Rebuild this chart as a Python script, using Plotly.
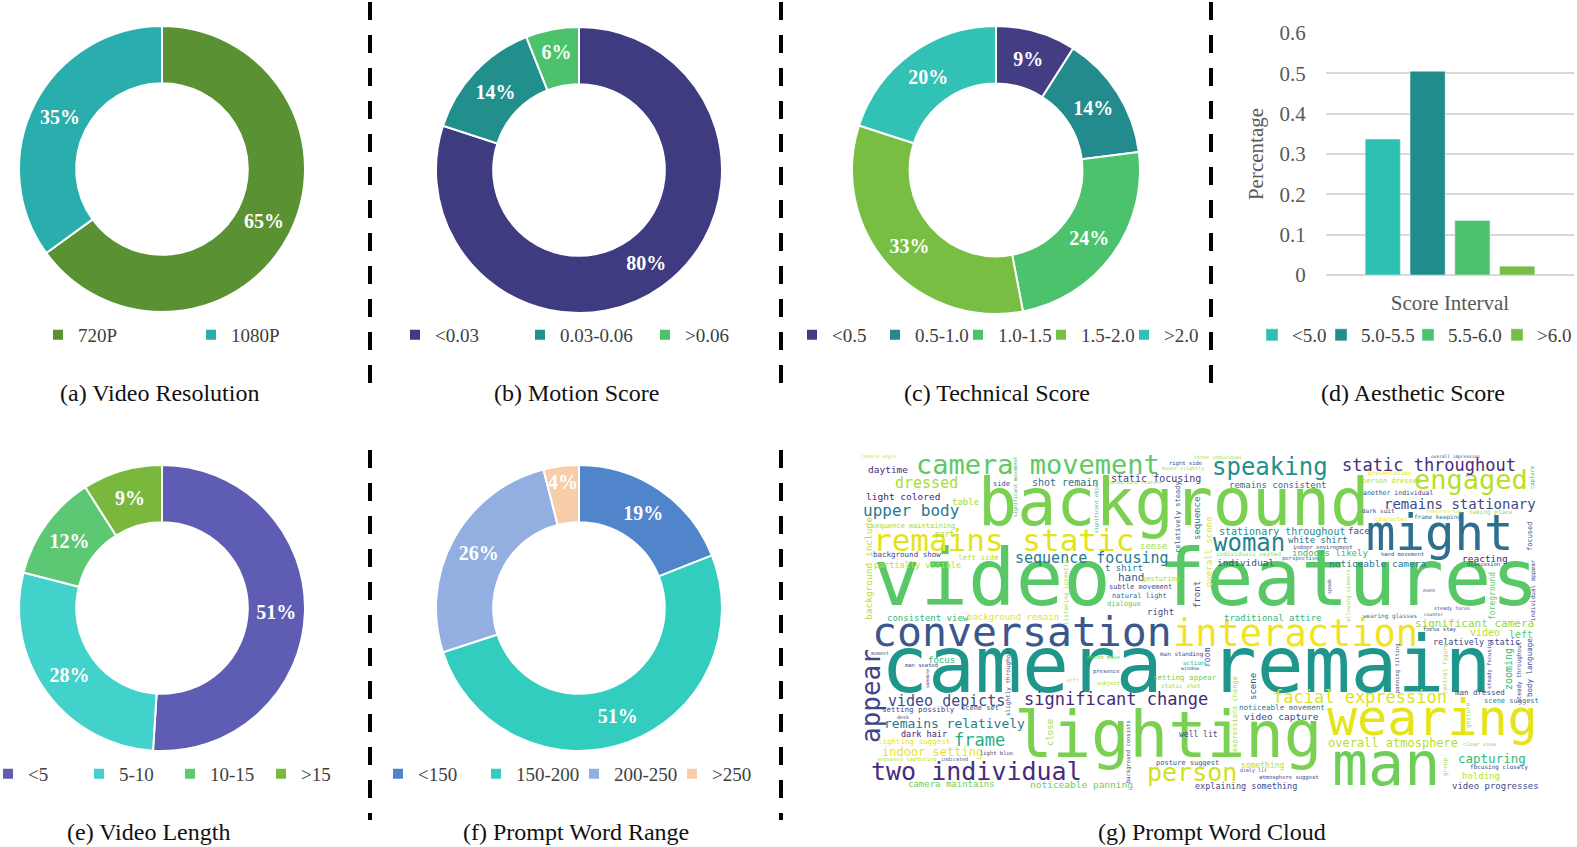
import plotly.graph_objects as go

# ##### Canvas #####
W, H = 1577, 847

# ##### Data #####
res_labels = ["720P", "1080P"]
res_values = [65, 35]

motion_labels = ["<0.03", "0.03-0.06", ">0.06"]
motion_values = [80, 14, 6]

tech_labels = ["<0.5", "0.5-1.0", "1.0-1.5", "1.5-2.0", ">2.0"]
tech_values = [9, 14, 24, 33, 20]

aes_category = "Score Interval"
aes_labels = ["<5.0", "5.0-5.5", "5.5-6.0", ">6.0"]
aes_values = [0.337, 0.505, 0.135, 0.022]

len_labels = ["<5", "5-10", "10-15", ">15"]
len_values = [51, 28, 12, 9]

prompt_labels = ["<150", "150-200", "200-250", ">250"]
prompt_values = [19, 51, 26, 4]

captions = ["(a) Video Resolution", "(b) Motion Score", "(c) Technical Score",
            "(d) Aesthetic Score", "(e) Video Length", "(f) Prompt Word Range",
            "(g) Prompt Word Cloud"]

# word cloud: words and their relative weight (font size)
wc_words = [
    "background", "video features", "camera remain", "lighting", "man", "wearing", "might",
    "conversation", "interaction", "remains static", "camera movement", "engaged", "speaking",
    "woman", "two individual", "person", "appear", "significant change", "static throughout",
    "facial expression", "frame", "upper body", "video depicts", "sequence focusing", "dressed",
    "remains stationary", "remains relatively", "capturing", "overall atmosphere", "indoor setting",
    "significant camera", "hand", "stationary throughout", "video", "left", "zooming", "shot remain",
    "static focusing", "daytime", "light colored", "video capture", "noticeable camera", "individual",
    "reacting", "noticeable panning", "background include", "table", "remains consistent",
    "white shirt", "indoors likely", "face", "sense", "t shirt", "right", "consistent view",
    "background remain", "traditional attire", "camera maintains", "video progresses", "holding",
    "focus", "close", "scene", "front", "overall scene", "sequence", "explaining something",
    "partially visible", "relatively static", "dark hair", "something", "well lit", "part",
    "foreground", "room", "background show", "left side", "setting possibly", "lighting suggest",
    "setting appear", "noticeable movement", "man dressed", "body language", "sequence maintaining",
    "side", "gesturing", "subtle movement", "natural light", "dialogue", "scene set",
    "posture suggest", "scene suggest", "person dressed", "relatively steady", "expressions change",
    "focused", "another individual", "listening intently", "slightly throughout", "man standing",
    "action", "static shot", "presentation", "dark suit", "character", "frame keeping",
    "taking place", "individuals seated", "wearing glasses", "focusing closely", "gesture", "group",
    "central figure", "steady throughout", "individual appear", "right side", "indoor environment",
    "perspective", "hand movement", "discussion", "man seated", "presence", "subject", "soft",
    "mouth move", "light blue", "sequence capturing", "atmosphere suggest", "focus stay",
    "clear view", "capture", "allowing viewers", "panning tilting", "steady focusing",
    "background consists", "camera angle", "three individual", "moves slightly",
    "background feature", "significant movement", "significant object", "features two", "desk",
    "indicated", "moment", "window", "dimly lit", "even", "steady focus", "overall impression",
    "someone", "speak", "counter",
]
wc_size = [
    65, 79, 78, 64, 60, 50, 49,
    41.5, 37, 31, 27, 27, 24,
    24, 25, 25, 26, 17, 17,
    17, 17, 16, 15, 15, 15,
    14, 13, 12.5, 12, 12,
    11, 11, 10, 10, 10, 10, 10,
    10, 9.5, 9.5, 9.5, 9.5, 9.5,
    9.5, 9.5, 9.5, 9, 9,
    9, 9, 9, 9, 9, 9, 9,
    9, 9, 9, 9, 9,
    9, 9, 9, 9, 9, 9, 8.5,
    8.5, 8.5, 8.5, 8, 8, 8,
    8, 8, 7.5, 7.5, 7.5, 7.5,
    7.5, 7.5, 7.5, 7.5, 7,
    7, 7, 7, 7, 7, 7,
    7, 7, 7, 7, 7,
    7, 6.5, 6, 6, 6,
    6, 6, 6, 6, 6, 6,
    6, 6, 6, 6, 6, 6,
    6, 6, 6, 5.5, 5.5,
    5.5, 5.5, 5.5, 5.5, 5.5, 5.5, 5.5,
    5.5, 5.5, 5.5, 5.5, 5.5,
    5.5, 5.5, 5.5, 5.5, 5.5,
    5.5, 5, 5, 5,
    5, 5, 5, 5, 5,
    5, 5, 5, 5, 5, 5, 4.5,
    4.5, 5, 4.5,
]

# word cloud layout (pixel position of each word centre, orientation, colour)
wc_x = [
    1173, 1206, 1186, 1168, 1386, 1432, 1440,
    1022, 1295, 1004, 1038, 1471, 1270,
    1249, 977, 1192, 871, 1116, 1429,
    1360, 980, 912, 947, 1092, 927,
    1460, 955, 1492, 1393, 933,
    1474, 1131, 1282, 1485, 1521, 1508, 1065,
    1156, 888, 903, 1281, 1377, 1245,
    1485, 1081, 868, 966, 1278,
    1318, 1330, 1359, 1153, 1124, 1160, 928,
    1013, 1273, 952, 1495, 1481,
    942, 1050, 1253, 1197, 1209, 1197, 1246,
    918, 1476, 924, 1263, 1198, 945,
    1492, 1207, 907, 979, 919, 914,
    1185, 1282, 1480, 1529, 913,
    1002, 1161, 1140, 1139, 1124, 980,
    1187, 1511, 1391, 1178, 1235,
    1530, 1398, 1066, 1008, 1182,
    1194, 1181, 1390, 1378, 1391, 1437,
    1491, 1248, 1390, 1499, 1468, 1445,
    1445, 1519, 1533, 1185, 1323,
    1300, 1402, 1483, 922, 1106, 1108, 1072,
    1103, 997, 907, 1289, 1440,
    1480, 1533, 1348, 1397, 1489,
    1128, 879, 1218, 1183,
    1135, 1016, 1097, 1444, 903,
    955, 880, 1190, 1253, 1429, 1452, 1455,
    927, 1329, 1433,
]
wc_y = [
    503, 578, 665, 735, 764, 718, 533,
    631, 633, 540, 465, 480, 467,
    543, 771, 772, 696, 699, 465,
    697, 740, 511, 701, 558, 483,
    504, 723, 758, 743, 752,
    623, 577, 531, 632, 634, 669, 483,
    479, 470, 497, 716, 563, 562,
    558, 784, 568, 502, 485,
    540, 553, 531, 546, 568, 612, 618,
    617, 618, 784, 786, 776,
    660, 733, 687, 595, 552, 519, 786,
    565, 642, 734, 765, 734, 534,
    596, 658, 554, 557, 709, 741,
    677, 707, 692, 668, 526,
    484, 579, 587, 596, 604, 708,
    763, 701, 481, 517, 714,
    536, 493, 593, 681, 654,
    662, 685, 473, 511, 518, 517,
    512, 553, 616, 767, 715, 767,
    669, 672, 590, 464, 547,
    558, 554, 564, 665, 671, 683, 680,
    657, 753, 759, 777, 629,
    744, 478, 596, 668, 664,
    752, 457, 457, 469,
    483, 487, 506, 511, 717,
    759, 653, 668, 770, 590, 608, 457,
    678, 587, 614,
]
wc_vertical = [
    0, 0, 0, 0, 0, 0, 0,
    0, 0, 0, 0, 0, 0,
    0, 0, 0, 1, 0, 0,
    0, 0, 0, 0, 0, 0,
    0, 0, 0, 0, 0,
    0, 0, 0, 0, 0, 1, 0,
    0, 0, 0, 0, 0, 0,
    0, 0, 1, 0, 0,
    0, 0, 0, 0, 0, 0, 0,
    0, 0, 0, 0, 0,
    0, 1, 1, 1, 1, 1, 0,
    0, 0, 0, 0, 0, 0,
    1, 1, 0, 0, 0, 0,
    0, 0, 0, 1, 0,
    0, 0, 0, 0, 0, 0,
    0, 0, 0, 1, 1,
    1, 0, 1, 1, 0,
    0, 0, 0, 0, 0, 0,
    0, 0, 0, 0, 1, 1,
    1, 1, 1, 0, 0,
    0, 0, 0, 0, 0, 0, 0,
    0, 0, 0, 0, 0,
    0, 1, 1, 1, 1,
    1, 0, 0, 0,
    0, 1, 1, 0, 0,
    0, 0, 0, 0, 0, 0, 0,
    1, 1, 0,
]
wc_color = [
    "#7ad151", "#58c765", "#1f968b", "#7ad151", "#6ece58", "#e4e419", "#2e6e8e",
    "#3b578b", "#f0e51c", "#e2e418", "#5ec962", "#b8de29", "#21918c",
    "#26828e", "#472d7b", "#d0e11c", "#414487", "#482878", "#472d7b",
    "#dde318", "#27ad81", "#2a788e", "#3e4989", "#2a788e", "#a8db34",
    "#3e4a89", "#2a788e", "#35b779", "#b5de2b", "#ece51b",
    "#8fd744", "#3b528b", "#23898e", "#b5de2b", "#5ec962", "#35b779", "#2d708e",
    "#453781", "#472c7a", "#482475", "#3e4989", "#2a788e", "#3e4989",
    "#482878", "#6ece58", "#b5de2b", "#a5db36", "#2d708e",
    "#2a788e", "#35b779", "#3e4989", "#a5db36", "#2d708e", "#3e4989", "#35b779",
    "#e8e41a", "#35b779", "#6ece58", "#3e4989", "#b5de2b",
    "#35b779", "#a0da39", "#3b528b", "#3b528b", "#e2e418", "#2a788e", "#3e4989",
    "#bddf26", "#3e4989", "#482475", "#b5de2b", "#3e4989", "#a5db36",
    "#5ec962", "#3b528b", "#3e4989", "#b5de2b", "#3e4989", "#e8e41a",
    "#7ad151", "#2a788e", "#3e4989", "#3e4989", "#a0da39",
    "#3b528b", "#a0da39", "#3e4a89", "#2d708e", "#5ec962", "#3b528b",
    "#3b528b", "#2a788e", "#b5de2b", "#3e4a89", "#a0da39",
    "#3e4989", "#3e4989", "#a0da39", "#3e4989", "#3e4989",
    "#35b779", "#a0da39", "#dfe318", "#3e4989", "#e8e41a", "#2a788e",
    "#a0da39", "#a0da39", "#2a788e", "#3e4989", "#a0da39", "#a0da39",
    "#a0da39", "#3e4989", "#3e4989", "#3e4989", "#3e4989",
    "#2a788e", "#3e4989", "#3e4989", "#3e4989", "#3e4989", "#a0da39", "#e8e41a",
    "#5ec962", "#3e4989", "#bddf26", "#3e4989", "#3e4989",
    "#a0da39", "#35b779", "#a0da39", "#3e4989", "#3e4989",
    "#3e4989", "#dfe318", "#a0da39", "#a0da39",
    "#a0da39", "#35b779", "#35b779", "#e8e41a", "#3e4989",
    "#3e4989", "#3e4989", "#3e4989", "#3e4989", "#3e4989", "#3e4989", "#3e4989",
    "#3e4989", "#3e4989", "#3e4989",
]

# ##### Styles #####
res_colors = ["#5a9133", "#2aadad"]
motion_colors = ["#3e3b80", "#21908d", "#4cc26c"]
tech_colors = ["#433d84", "#238b8d", "#4cc26c", "#78be43", "#31c2b5"]
aes_colors = ["#2fc0b4", "#218c8c", "#4cc26c", "#78be43"]
len_colors = ["#5e5cb3", "#43d1cc", "#5cc873", "#7ab83d"]
prompt_colors = ["#5085cc", "#33cdbf", "#93afe2", "#f7cdaa"]

SERIF = "Liberation Serif"
LEGEND_FONT = dict(family=SERIF, size=19, color="#404040")

fig = go.Figure()


def add_donut(labels, values, colors, cx, cy, r, legend):
    # one ring chart, placed by its centre and radius in pixels
    fig.add_trace(go.Pie(
        labels=labels,
        values=values,
        text=[f"{v}%" for v in values],
        textinfo="text",
        textposition="inside",
        insidetextorientation="horizontal",
        hole=0.6,
        sort=False,
        direction="clockwise",
        rotation=0,
        marker=dict(colors=colors, line=dict(color="white", width=2)),
        textfont=dict(family=SERIF, size=20, color="white", weight="bold"),
        domain=dict(x=[(cx - r) / W, (cx + r) / W], y=[1 - (cy + r) / H, 1 - (cy - r) / H]),
        legend=legend,
        hoverinfo="label+percent",
    ))


add_donut(res_labels, res_values, res_colors, 162, 169, 143, "legend")
add_donut(motion_labels, motion_values, motion_colors, 579, 170, 143, "legend2")
add_donut(tech_labels, tech_values, tech_colors, 996, 170, 144, "legend3")
add_donut(len_labels, len_values, len_colors, 162, 608, 143, "legend5")
add_donut(prompt_labels, prompt_values, prompt_colors, 579, 608, 143, "legend6")

# --- Bar chart (d) ---
aes_legend_widths = [24, 42, 44, 40]
for lab, val, col, lw in zip(aes_labels, aes_values, aes_colors, aes_legend_widths):
    fig.add_trace(go.Bar(
        x=[aes_category], y=[val], name=lab, marker_color=col,
        legend="legend4", legendwidth=lw, xaxis="x", yaxis="y",
    ))

# --- Word cloud (g) ---
fig.add_trace(go.Scatter(x=[None], y=[None], xaxis="x2", yaxis="y2", showlegend=False,
                         hoverinfo="skip"))

annotations = []
for w, s, x, y, v, c in zip(wc_words, wc_size, wc_x, wc_y, wc_vertical, wc_color):
    annotations.append(dict(
        x=x, y=y, xref="x2", yref="y2", text=w, showarrow=False,
        xanchor="center", yanchor="middle",
        textangle=-90 if v else 0,
        font=dict(family="DejaVu Sans Mono", size=s, color=c),
    ))

# --- Captions ---
cap_pos = [(159, 393), (576, 393), (997, 393), (1413, 393), (148, 832), (576, 832), (1212, 832)]
for text, (x, y) in zip(captions, cap_pos):
    annotations.append(dict(
        x=x / W, y=1 - y / H, xref="paper", yref="paper", text=text, showarrow=False,
        xanchor="center", yanchor="middle",
        font=dict(family=SERIF, size=24, color="#111111"),
    ))

# --- Dashed separators ---
shapes = []
for x, y0, y1 in [(370, 2, 387), (781, 2, 387), (1211, 2, 387), (370, 450, 820), (781, 450, 820)]:
    shapes.append(dict(
        type="line", xref="paper", yref="paper",
        x0=x / W, x1=x / W, y0=1 - y0 / H, y1=1 - y1 / H,
        line=dict(color="black", width=4, dash="18px,15px"),
    ))


def legend_at(x, y, entrywidth=None):
    d = dict(orientation="h", x=x / W, y=1 - y / H, xanchor="left", yanchor="middle",
             font=LEGEND_FONT, bgcolor="rgba(0,0,0,0)", itemwidth=30, traceorder="normal")
    if entrywidth:
        d["entrywidth"] = entrywidth
    return d


fig.update_layout(
    width=W, height=H,
    margin=dict(l=0, r=0, t=0, b=0, autoexpand=False),
    paper_bgcolor="white", plot_bgcolor="white",
    barmode="group", bargap=0.277, bargroupgap=0.217,
    legend=legend_at(38, 335, 108),
    legend2=legend_at(395, 335, 80),
    legend3=legend_at(792, 335, 38),
    legend4=legend_at(1252, 335),
    legend5=legend_at(-12, 774, 46),
    legend6=legend_at(378, 774, 53),
    xaxis=dict(
        domain=[1326 / W, 1574 / W], anchor="y", showgrid=False, showline=False,
        ticks="outside", ticklen=9, tickcolor="rgba(0,0,0,0)",
        tickfont=dict(family=SERIF, size=21, color="#595959"),
    ),
    yaxis=dict(
        domain=[1 - 275 / H, 1 - 33 / H], anchor="x", range=[0, 0.6],
        tickvals=[0, 0.1, 0.2, 0.3, 0.4, 0.5, 0.6],
        ticktext=["0", "0.1", "0.2", "0.3", "0.4", "0.5", "0.6"],
        showgrid=True, gridcolor="#d9d9d9", gridwidth=1.5,
        zeroline=True, zerolinecolor="#d9d9d9", zerolinewidth=1.5,
        ticks="outside", ticklen=15, tickcolor="rgba(0,0,0,0)",
        tickfont=dict(family=SERIF, size=21, color="#595959"),
        title=dict(text="Percentage", font=dict(family=SERIF, size=21, color="#595959"),
                   standoff=10),
    ),
    xaxis2=dict(domain=[850 / W, 1545 / W], range=[850, 1545], visible=False, anchor="y2"),
    yaxis2=dict(domain=[1 - 800 / H, 1 - 445 / H], range=[800, 445], visible=False, anchor="x2"),
    uniformtext=dict(minsize=20, mode="show"),
    annotations=annotations,
    shapes=shapes,
)

# the page body has a default margin; drop it so the figure fills the window exactly
fig.write_html("out.html", config={"displayModeBar": False},
               post_script="document.body.style.margin='0px';")
